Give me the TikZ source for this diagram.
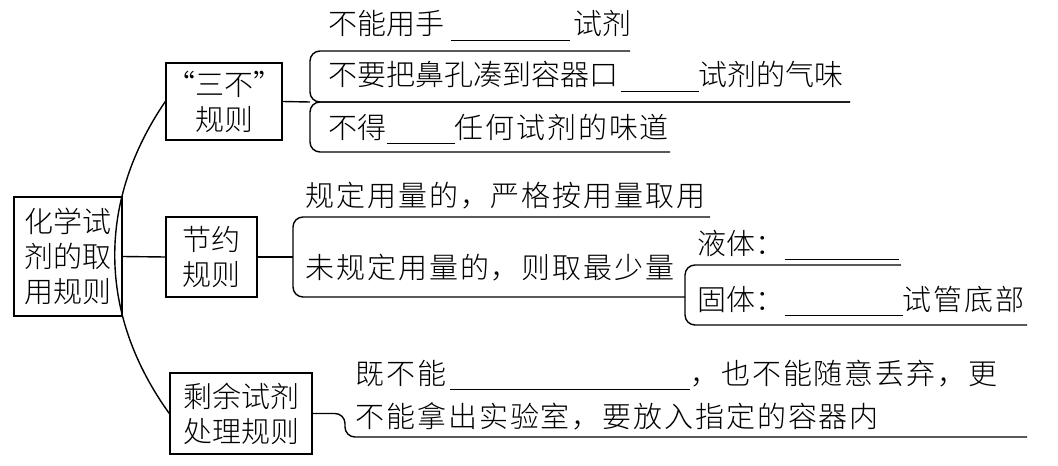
\documentclass[tikz,border=0pt]{standalone}
\usepackage{fontspec}
\setmainfont{Noto Sans CJK SC}[UprightFont=* Light]
\newfontfamily\widecjk[LetterSpace=6.5]{Noto Sans CJK SC Light}
\usetikzlibrary{positioning}
\def \blank #1{\rule[-3pt]{#1}{0.7pt}}

\begin{document}
\begin{tikzpicture}[x=0.5pt, y=-0.5pt, line width=0.7pt,
box/.style={draw, align=center, inner sep=0pt, font=\fontsize{14.5pt}{17.5pt}\selectfont},
item/.style={anchor=base west, inner sep=0pt, font=\fontsize{14.5pt}{17pt}\selectfont},
wideitem/.style={item, font=\widecjk\fontsize{14.5pt}{17pt}\selectfont},
brace/.style={rounded corners=5pt}
]
\useasboundingbox (0,0) rectangle (1058,465);

\node (root) [box, minimum width=54pt, minimum height=59.5pt] at (68,256.5) {化学试\\剂的取\\用规则};
\node (sanbu) [box, minimum width=54pt, minimum height=38.5pt] at (224,101.5) {“三不”\\规则};
\node (jieyue) [box, minimum width=45.5pt, minimum height=40pt] at (211.5,257) {节约\\规则};
\node (shengyu) [box, minimum width=71pt, minimum height=40.5pt] at (241,413.5) {剩余试剂\\处理规则};

\coordinate (j1) at (310,102);
\coordinate (j2) at (293,257);
\coordinate (j3) at (685,297);

\draw (sanbu.west) to[bend right=35] (shengyu.west);
\draw (root.east) -- (jieyue.west);
\draw (sanbu.east) -- (j1);
\draw (jieyue.east) -- (j2);

% "三不"
\node (nohand) [item] at (328,35) {不能用手\hspace{3pt}\blank{59.5pt}\hspace{2pt}试剂};
\node (nosmell) [item] at (328,86) {不要把鼻孔凑到容器口\hspace{1pt}\blank{39pt}试剂的气味};
\node (notaste) [item] at (328,138) {不得\blank{34pt}{\widecjk 任何试剂的味道}};
\draw[brace] (630,51) -| (j1) -- (850,102);
\draw[brace] (670,152) -| (j1) -- (850,102);

% 节约
\node (fixed) [wideitem] at (305,206) {规定用量的，严格按用量取用};
\node (unfixed) [wideitem] at (305,278) {未规定用量的，则取最少量};
\draw[brace] (710,217) -| (j2) |- (j3);
\node (liquid) [item] at (697,254) {液体：\blank{57pt}};
\node (solid) [item] at (697,310) {固体：\blank{59pt}{\widecjk 试管底部}};
\draw[brace] (901,265) -| (j3) |- (1027,325);

% 剩余试剂
\node (rest1) [wideitem] at (355,384) {既不能\hspace{2pt}\blank{120pt}，也不能随意丢弃，更};
\node (rest2) [wideitem] at (355,427) {不能拿出实验室，要放入指定的容器内};
\draw[brace] (shengyu.east) -| (345,437) -- (1027,437);

\end{tikzpicture}
\end{document}
